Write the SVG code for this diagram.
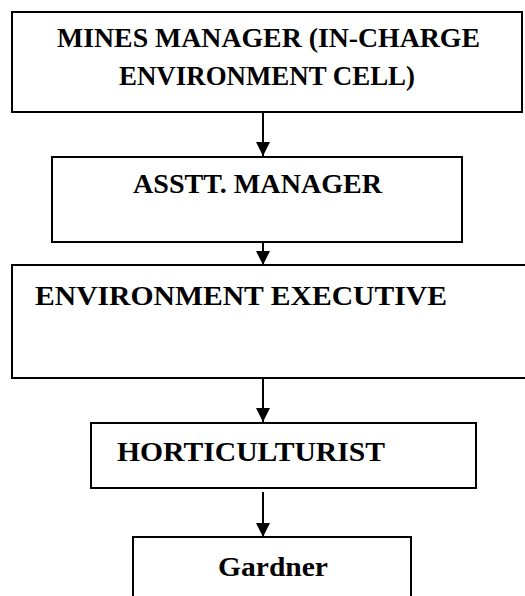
<svg xmlns="http://www.w3.org/2000/svg" width="525" height="596" viewBox="0 0 525 596">
<style>
.box{fill:#fff;stroke:#000;stroke-width:2}
.t{font-family:"Liberation Serif","Times New Roman",serif;font-weight:bold;font-size:27px;fill:#000}
.c{stroke:#000;stroke-width:2;fill:none}
</style>
<defs>
<marker id="ah" markerWidth="14" markerHeight="14" viewBox="0 0 14 14" refX="14" refY="7" orient="auto" markerUnits="userSpaceOnUse">
<path d="M0,0 L14,7 L0,14 z" fill="#000"/>
</marker>
</defs>
<g id="connectors">
<line class="c" x1="263" y1="112" x2="263" y2="156" marker-end="url(#ah)"/>
<line class="c" x1="263" y1="242" x2="263" y2="265" marker-end="url(#ah)"/>
<line class="c" x1="263" y1="378" x2="263" y2="422" marker-end="url(#ah)"/>
<line class="c" x1="263" y1="492" x2="263" y2="537" marker-end="url(#ah)"/>
</g>
<g id="n1">
<rect class="box" x="12" y="12" width="510" height="100"/>
<text class="t" x="57" y="47" font-size="25" textLength="423" lengthAdjust="spacingAndGlyphs">MINES MANAGER (IN-CHARGE</text>
<text class="t" x="119" y="85" font-size="25" textLength="296" lengthAdjust="spacingAndGlyphs">ENVIRONMENT CELL)</text>
</g>
<g id="n2">
<rect class="box" x="52" y="157" width="410" height="85"/>
<text class="t" x="133" y="193" textLength="249" lengthAdjust="spacingAndGlyphs">ASSTT. MANAGER</text>
</g>
<g id="n3">
<rect class="box" x="12" y="265" width="530" height="113"/>
<text class="t" x="35" y="305" font-size="28" textLength="412" lengthAdjust="spacingAndGlyphs">ENVIRONMENT EXECUTIVE</text>
</g>
<g id="n4">
<rect class="box" x="91" y="423" width="385" height="65"/>
<text class="t" x="117" y="461" textLength="268" lengthAdjust="spacingAndGlyphs">HORTICULTURIST</text>
</g>
<g id="n5">
<rect class="box" x="133" y="537" width="278" height="80"/>
<text class="t" x="218" y="576" textLength="110" lengthAdjust="spacingAndGlyphs">Gardner</text>
</g>
</svg>
